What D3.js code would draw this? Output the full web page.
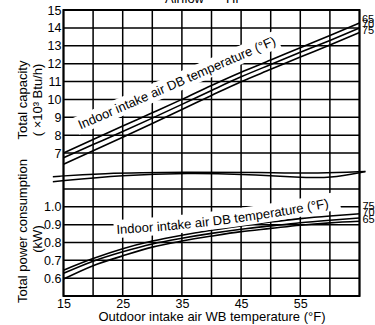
<!DOCTYPE html>
<html>
<head>
<meta charset="utf-8">
<script src="https://cdn.jsdelivr.net/npm/d3@7"></script>
<style>
  html, body { margin: 0; padding: 0; background: #fff; }
  svg { display: block; font-family: "Liberation Sans", Arial, Helvetica, sans-serif; }
</style>
</head>
<body>
<svg id="chart" width="375" height="325"></svg>
<script>
// Outdoor intake air wet-bulb temperature (°F) at which the curves are sampled
const wbTemps = [15, 20, 25, 30, 35, 40, 45, 50, 55, 60, 65];

// Total capacity (×10³ Btu/h) for each indoor DB temperature
const capacity65 = [7.00, 7.76, 8.51, 9.25, 10.00, 10.78, 11.52, 12.20, 12.89, 13.57, 14.27];
const capacity70 = [6.74, 7.47, 8.20, 8.95, 9.72, 10.50, 11.26, 11.95, 12.63, 13.30, 13.99];
const capacity75 = [6.37, 7.13, 7.88, 8.65, 9.43, 10.22, 10.99, 11.68, 12.37, 13.04, 13.74];

// Total power consumption (kW) for each indoor DB temperature
const power75 = [0.645, 0.710, 0.765, 0.808, 0.841, 0.869, 0.893, 0.915, 0.934, 0.949, 0.961];
const power70 = [0.627, 0.695, 0.748, 0.792, 0.824, 0.851, 0.874, 0.893, 0.911, 0.925, 0.937];
const power65 = [0.595, 0.670, 0.725, 0.774, 0.808, 0.836, 0.861, 0.879, 0.897, 0.910, 0.919];

// Tick labels and grid steps
const xTickLabels = [15, 25, 35, 45, 55];
const xGridValues = [15, 20, 25, 30, 35, 40, 45, 50, 55, 60, 65];
const capTickLabels = [7, 8, 9, 10, 11, 12, 13, 14, 15];
const powTickLabels = [0.6, 0.7, 0.8, 0.9, 1.0];
const powGridValues = [0.6, 0.7, 0.8, 0.9, 1.0, 1.1];
const capSeriesLabels = ["65", "70", "75"];
const powSeriesLabels = ["75", "70", "65"];

// Axis-break squiggles between the two panels (WB °F, kW)
const breakUpperWb = [13.2, 20.7, 36.4, 48.2, 58.4, 66.0];
const breakUpperKw = [1.169, 1.188, 1.195, 1.193, 1.187, 1.198];
const breakLowerWb = [13.2, 25.1, 36.4, 44.8, 54.9, 60.0, 66.0];
const breakLowerKw = [1.141, 1.179, 1.190, 1.184, 1.165, 1.160, 1.198];

const svg = d3.select("#chart");
const plotL = 63.5, plotR = 359.5, plotT = 10, plotB = 296;

const x = d3.scaleLinear().domain([15, 65]).range([plotL, plotR]);
const yCap = d3.scaleLinear().domain([7, 15]).range([153, plotT]);
const yPow = d3.scaleLinear().domain([0.5, 1.1]).range([plotB, 189]);

// Cut-off heading above the plot
svg.append("text").attr("x", 165).attr("y", 2.5).attr("font-size", 13)
  .text("Airflow");
svg.append("text").attr("x", 226).attr("y", 2.5).attr("font-size", 13)
  .text("Hi");

// Axes (labels only)
const styleAxis = g => {
  g.select(".domain").remove();
  g.attr("font-family", null).attr("font-size", 12.5);
  g.selectAll("text").attr("fill", "#000");
};
svg.append("g").attr("transform", `translate(${plotL},0)`)
  .call(d3.axisLeft(yCap).tickValues(capTickLabels).tickSize(0).tickPadding(2)
    .tickFormat(d3.format("d")))
  .call(styleAxis);
svg.append("g").attr("transform", `translate(${plotL},0)`)
  .call(d3.axisLeft(yPow).tickValues(powTickLabels).tickSize(0).tickPadding(2)
    .tickFormat(d3.format(".1f")))
  .call(styleAxis);
svg.append("g").attr("transform", `translate(0,${plotB})`)
  .call(d3.axisBottom(x).tickValues(xTickLabels).tickSize(0).tickPadding(3)
    .tickFormat(d3.format("d")))
  .call(styleAxis);

// Series labels at the right edge
svg.selectAll("text.capLab").data(capSeriesLabels).join("text")
  .attr("class", "capLab")
  .attr("x", plotR + 2.5)
  .attr("y", (d, i) => 22.5 + i * 5.7)
  .attr("font-size", 11).text(d => d);
svg.selectAll("text.powLab").data(powSeriesLabels).join("text")
  .attr("class", "powLab")
  .attr("x", plotR + 3)
  .attr("y", (d, i) => 209.5 + i * 6.8)
  .attr("font-size", 11).text(d => d);

// Axis titles
svg.append("text").attr("font-size", 13).attr("text-anchor", "middle")
  .attr("transform", "translate(27,100) rotate(-90)")
  .text("Total capacity");
svg.append("text").attr("font-size", 13).attr("text-anchor", "middle")
  .attr("transform", "translate(41.5,100) rotate(-90)")
  .text("( ×10³ Btu/h)");
svg.append("text").attr("font-size", 13).attr("text-anchor", "middle")
  .attr("transform", "translate(27,231) rotate(-90)")
  .text("Total power consumption");
svg.append("text").attr("font-size", 13).attr("text-anchor", "middle")
  .attr("transform", "translate(41.5,239) rotate(-90)")
  .text("(kW)");
svg.append("text").attr("font-size", 13).attr("text-anchor", "middle")
  .attr("x", (x(15) + x(65)) / 2 + 0.5).attr("y", 321)
  .text("Outdoor intake air WB temperature (°F)");

// Performance curves
const lineGen = d3.line().curve(d3.curveMonotoneX);
[capacity65, capacity70, capacity75].forEach(vals => {
  svg.append("path")
    .attr("d", lineGen(wbTemps.map((t, i) => [x(t), yCap(vals[i])])))
    .attr("fill", "none").attr("stroke", "#000").attr("stroke-width", 1.6);
});
[power75, power70, power65].forEach(vals => {
  svg.append("path")
    .attr("d", lineGen(wbTemps.map((t, i) => [x(t), yPow(vals[i])])))
    .attr("fill", "none").attr("stroke", "#000").attr("stroke-width", 1.6);
});

// Axis break
const breakLine = d3.line().x(d => x(d[0])).y(d => yPow(d[1])).curve(d3.curveBasis);
[[breakUpperWb, breakUpperKw], [breakLowerWb, breakLowerKw]].forEach(([wb, kw]) => {
  svg.append("path").attr("d", breakLine(d3.zip(wb, kw)))
    .attr("fill", "none").attr("stroke", "#000").attr("stroke-width", 1.5);
});

// Grid as one path built from the scales
const gridPath = d3.path();
xGridValues.forEach(v => { gridPath.moveTo(x(v), plotT); gridPath.lineTo(x(v), plotB); });
capTickLabels.forEach(v => { gridPath.moveTo(plotL, yCap(v)); gridPath.lineTo(plotR, yCap(v)); });
powGridValues.forEach(v => { gridPath.moveTo(plotL, yPow(v)); gridPath.lineTo(plotR, yPow(v)); });
svg.append("path").attr("d", gridPath.toString())
  .attr("fill", "none").attr("stroke", "#000").attr("stroke-width", 1.5);

// Frame
svg.append("rect").attr("x", plotL).attr("y", plotT)
  .attr("width", plotR - plotL).attr("height", plotB - plotT)
  .attr("fill", "none").attr("stroke", "#000").attr("stroke-width", 2);

// Annotation: capacity panel (straight, boxed in white)
const capNote = svg.append("g")
  .attr("transform", `translate(${x(17.87)},${yCap(8.315)}) rotate(-23.5)`);
const capRect = capNote.append("rect").attr("fill", "#fff");
const capText = capNote.append("text").attr("font-size", 13)
  .text("Indoor intake air DB temperature (°F)");
const cb = capText.node().getBBox();
capRect.attr("x", cb.x - 3).attr("y", cb.y - 1.5)
  .attr("width", cb.width + 6).attr("height", cb.height + 3);

// Annotation: power panel (gently curved along the lines)
const notePts = [[24.0, 0.848], [42.3, 0.881], [61.1, 1.005]];
const p0 = [x(notePts[0][0]), yPow(notePts[0][1])];
const p1 = [x(notePts[1][0]), yPow(notePts[1][1])];
const p2 = [x(notePts[2][0]), yPow(notePts[2][1])];
const quad = (dy, ext) => {
  const a = [p0[0] - ext, p0[1] + dy + ext * 0.07];
  const b = [p2[0] + ext, p2[1] + dy - ext * 0.2];
  return `M${a[0]},${a[1]} Q${p1[0]},${p1[1] + dy} ${b[0]},${b[1]}`;
};
svg.append("path").attr("d", quad(-5, 3))
  .attr("fill", "none").attr("stroke", "#fff").attr("stroke-width", 18);
svg.append("defs").append("path").attr("id", "powNotePath").attr("d", quad(0, 0));
svg.append("text").attr("font-size", 13)
  .append("textPath").attr("href", "#powNotePath")
  .text("Indoor intake air DB temperature (°F)");
</script>
</body>
</html>
